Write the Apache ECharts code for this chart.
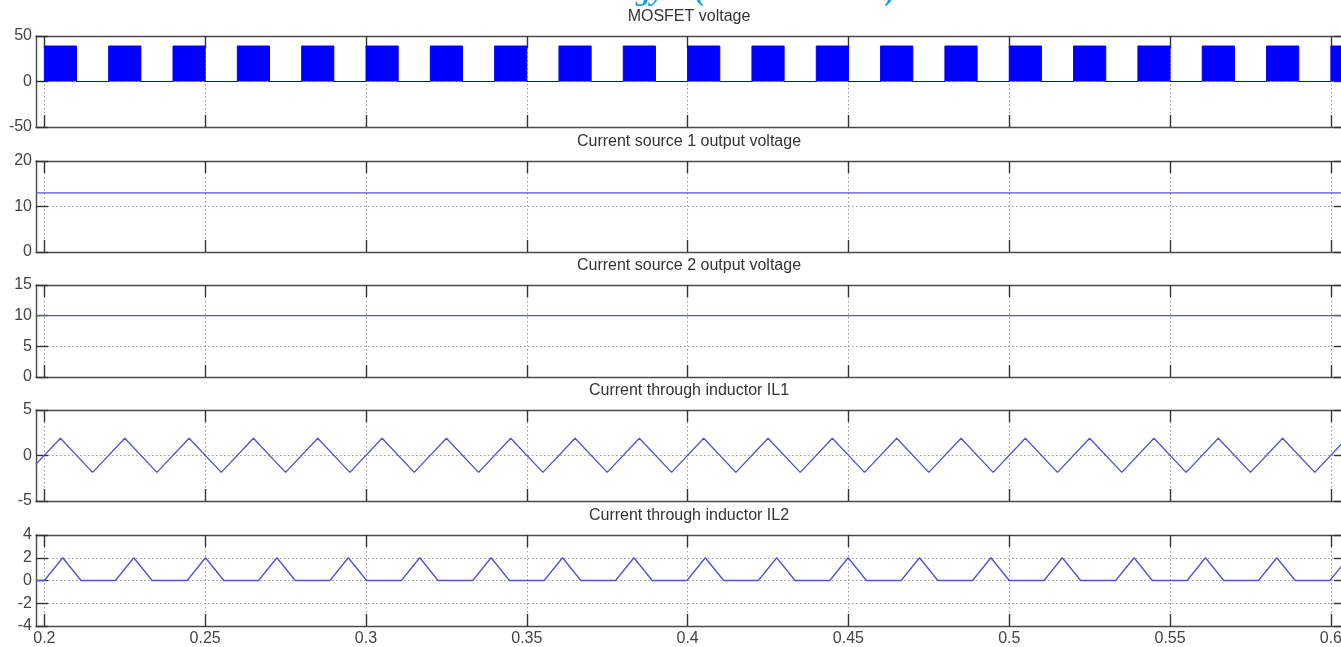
<!DOCTYPE html>
<html>
<head>
<meta charset="utf-8">
<title>Waveforms</title>
<script src="https://cdn.jsdelivr.net/npm/echarts@6/dist/echarts.min.js"></script>
<style>
  html, body { margin: 0; padding: 0; background: #fff; }
  #main { width: 1341px; height: 647px; }
</style>
</head>
<body>
<div id="main"></div>
<script>
  // time axis (s)
  var xMin = 0.1974;
  var xMax = 0.6047;
  var xTicks = [0.2, 0.25, 0.3, 0.35, 0.4, 0.45, 0.5, 0.55, 0.6];

  var titles = [
    'MOSFET voltage',
    'Current source 1 output voltage',
    'Current source 2 output voltage',
    'Current through inductor IL1',
    'Current through inductor IL2'
  ];

  // y ranges: [min, max, step]
  var yRanges = [[-50, 50, 50], [0, 20, 10], [0, 15, 5], [-5, 5, 5], [-4, 4, 2]];

  // MOSFET voltage: switching bursts (on / off instants and level)
  var mosOn  = [0.200, 0.220, 0.240, 0.260, 0.280, 0.300, 0.320, 0.340, 0.360, 0.380, 0.400,
                0.420, 0.440, 0.460, 0.480, 0.500, 0.520, 0.540, 0.560, 0.580, 0.600];
  var mosOff = [0.210, 0.230, 0.250, 0.270, 0.290, 0.310, 0.330, 0.350, 0.370, 0.390, 0.410,
                0.430, 0.450, 0.470, 0.490, 0.510, 0.530, 0.550, 0.570, 0.590, 0.610];
  var mosHigh = 39;
  var mosLow = 0;

  // current sources output voltage
  var cs1Time = [xMin, xMax];
  var cs1Val  = [13, 13];
  var cs2Time = [xMin, xMax];
  var cs2Val  = [10, 10];

  // inductor current IL1 (corner points)
  var il1Time = [0.1974, 0.205, 0.215, 0.225, 0.235, 0.245, 0.255, 0.265, 0.275, 0.285, 0.295,
                 0.305, 0.315, 0.325, 0.335, 0.345, 0.355, 0.365, 0.375, 0.385, 0.395,
                 0.405, 0.415, 0.425, 0.435, 0.445, 0.455, 0.465, 0.475, 0.485, 0.495,
                 0.505, 0.515, 0.525, 0.535, 0.545, 0.555, 0.565, 0.575, 0.585, 0.595, 0.605];
  var il1Val  = [-0.95, 1.9, -1.85, 1.9, -1.85, 1.9, -1.85, 1.9, -1.85, 1.9, -1.85,
                 1.9, -1.85, 1.9, -1.85, 1.9, -1.85, 1.9, -1.85, 1.9, -1.85,
                 1.9, -1.85, 1.9, -1.85, 1.9, -1.85, 1.9, -1.85, 1.9, -1.85,
                 1.9, -1.85, 1.9, -1.85, 1.9, -1.85, 1.9, -1.85, 1.9, -1.85, 1.9];

  // inductor current IL2 (corner points)
  var il2Time = [0.1974,
                 0.2000, 0.2057, 0.2114, 0.2221, 0.2278, 0.2335, 0.2444, 0.2501, 0.2558,
                 0.2666, 0.2723, 0.2780, 0.2888, 0.2945, 0.3002, 0.3110, 0.3167, 0.3224,
                 0.3332, 0.3389, 0.3446, 0.3554, 0.3611, 0.3668, 0.3776, 0.3833, 0.3890,
                 0.3998, 0.4055, 0.4112, 0.4220, 0.4277, 0.4334, 0.4442, 0.4499, 0.4556,
                 0.4664, 0.4721, 0.4778, 0.4886, 0.4943, 0.5000, 0.5108, 0.5165, 0.5222,
                 0.5331, 0.5388, 0.5445, 0.5553, 0.5610, 0.5667, 0.5775, 0.5832, 0.5889,
                 0.5997, 0.6054, 0.6111];
  var il2Val  = [0,
                 0, 2, 0, 0, 2, 0, 0, 2, 0,
                 0, 2, 0, 0, 2, 0, 0, 2, 0,
                 0, 2, 0, 0, 2, 0, 0, 2, 0,
                 0, 2, 0, 0, 2, 0, 0, 2, 0,
                 0, 2, 0, 0, 2, 0, 0, 2, 0,
                 0, 2, 0, 0, 2, 0, 0, 2, 0,
                 0, 2, 0];

  function pairs(t, v) {
    var out = [];
    for (var i = 0; i < t.length; i++) out.push([t[i], v[i]]);
    return out;
  }

  var mosData = [[xMin, mosLow]];
  for (var k = 0; k < mosOn.length; k++) {
    mosData.push([mosOn[k], mosLow], [mosOn[k], mosHigh], [mosOff[k], mosHigh], [mosOff[k], mosLow]);
  }

  var gridPos = [[36, 91], [161, 91], [285, 92], [410, 91], [535, 91]];
  var font = '"Liberation Sans", Arial, sans-serif';
  var axisCol = '#4a4a4a';
  var gridLine = { show: true, lineStyle: { color: '#9a9a9a', width: 1, type: [1.5, 2.5] } };

  var grids = [], xAxes = [], yAxes = [], titleList = [];
  for (var i = 0; i < 5; i++) {
    grids.push({
      left: 36, right: -5, top: gridPos[i][0], height: gridPos[i][1],
      containLabel: false, outerBoundsMode: 'none'
    });
    titleList.push({
      text: titles[i], left: 689, top: gridPos[i][0] - 27, textAlign: 'center', padding: 0,
      textStyle: { fontSize: 16, fontWeight: 'normal', color: '#333', fontFamily: font }
    });
    // bottom + top x axes
    xAxes.push({
      type: 'value', gridIndex: i, min: xMin, max: xMax, splitNumber: 8, position: 'bottom',
      axisLine: { show: true, onZero: false, lineStyle: { color: axisCol, width: 1.4 } },
      axisTick: { show: true, inside: true, length: 12, customValues: xTicks, lineStyle: { color: '#333', width: 1.4 } },
      axisLabel: { show: i === 4, customValues: xTicks, margin: 5, color: '#444', fontSize: 16, fontFamily: font },
      splitLine: gridLine
    });
    xAxes.push({
      type: 'value', gridIndex: i, min: xMin, max: xMax, splitNumber: 8, position: 'top',
      axisLine: { show: true, onZero: false, lineStyle: { color: axisCol, width: 1.4 } },
      axisTick: { show: true, inside: true, length: 12, customValues: xTicks, lineStyle: { color: '#333', width: 1.4 } },
      axisLabel: { show: false },
      splitLine: { show: false }
    });
    // left + right y axes
    var r = yRanges[i];
    yAxes.push({
      type: 'value', gridIndex: i, min: r[0], max: r[1], interval: r[2], position: 'left',
      axisLine: { show: true, onZero: false, lineStyle: { color: axisCol, width: 1.4 } },
      axisTick: { show: true, inside: true, length: 12, lineStyle: { color: '#333', width: 1.4 } },
      axisLabel: { margin: 4, color: '#444', fontSize: 16, fontFamily: font },
      splitLine: gridLine
    });
    yAxes.push({
      type: 'value', gridIndex: i, min: r[0], max: r[1], interval: r[2], position: 'right',
      axisLine: { show: true, onZero: false, lineStyle: { color: axisCol, width: 1.4 } },
      axisTick: { show: true, inside: true, length: 12, lineStyle: { color: '#333', width: 1.4 } },
      axisLabel: { show: false },
      splitLine: { show: false }
    });
  }

  function lineSeries(idx, data, color) {
    return {
      type: 'line', xAxisIndex: idx * 2, yAxisIndex: idx * 2, data: data,
      symbol: 'none', clip: true, silent: true,
      lineStyle: { color: color, width: 1.3 }
    };
  }

  var s1 = lineSeries(0, mosData, '#0000ff');
  s1.areaStyle = { color: '#0000ff', opacity: 1 };
  s1.lineStyle.width = 1;

  var capFont = 'italic bold 30px "Liberation Serif"';
  var myChart = echarts.init(document.getElementById('main'));
  myChart.setOption({
    animation: false,
    backgroundColor: '#fff',
    title: titleList,
    grid: grids,
    xAxis: xAxes,
    yAxis: yAxes,
    graphic: [
      { type: 'text', left: 636, top: -23, style: { text: 'gy', fill: '#1f9ce8', font: capFont } },
      { type: 'text', left: 694, top: -23, style: { text: '(', fill: '#1f9ce8', font: 'bold 30px "Liberation Serif"' } },
      { type: 'text', left: 884, top: -23, style: { text: ')', fill: '#1f9ce8', font: 'bold 30px "Liberation Serif"' } }
    ],
    series: [
      s1,
      lineSeries(1, pairs(cs1Time, cs1Val), '#5454d8'),
      lineSeries(2, pairs(cs2Time, cs2Val), '#5454d8'),
      lineSeries(3, pairs(il1Time, il1Val), '#5050d0'),
      lineSeries(4, pairs(il2Time, il2Val), '#5050d0')
    ]
  });
</script>
</body>
</html>
